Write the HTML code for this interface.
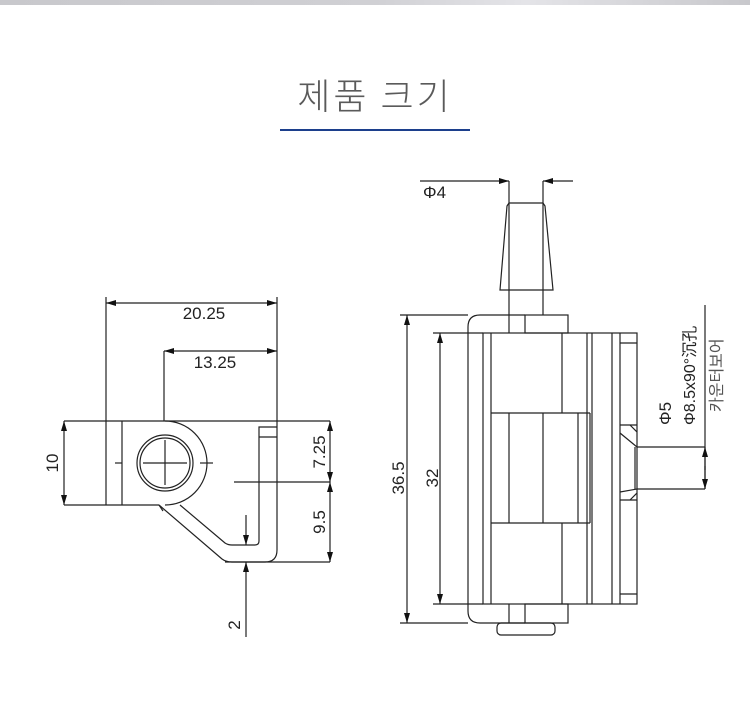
<!DOCTYPE html>
<html><head><meta charset="utf-8"><style>
body{margin:0;background:#fff;}
.wrap{position:relative;width:750px;height:709px;overflow:hidden;background:#fff;}
.bar{position:absolute;left:0;top:0;width:750px;height:5px;background:linear-gradient(90deg,#c8c8cc,#d0d0d4 50%,#e4e4e8 70%,#c8c8cc);}
.title{position:absolute;left:0;width:750px;top:68px;text-align:center;font:300 36px "Noto Sans CJK KR","NanumGothic",sans-serif;color:#5a5a5a;letter-spacing:3px;}
.line{position:absolute;left:280px;top:129px;width:190px;height:2px;background:#1c3f8c;}
svg{position:absolute;left:0;top:0;}
text{font-family:"Liberation Sans","Noto Sans CJK KR",sans-serif;fill:#222;}
</style></head><body><div class="wrap">
<div class="bar"></div>
<div class="title">제품 크기</div>
<div class="line"></div>
<svg width="750" height="709" viewBox="0 0 750 709">
<defs>
<marker id="a" viewBox="0 0 10 6" refX="10" refY="3" markerWidth="10" markerHeight="6" orient="auto-start-reverse" markerUnits="userSpaceOnUse"><path d="M0,0L10,3L0,6z" fill="#111"/></marker>
</defs>
<g stroke="#222" stroke-width="1.2" fill="none">
<line x1="106" y1="303" x2="277" y2="303" marker-start="url(#a)" marker-end="url(#a)"/>
<line x1="164" y1="351" x2="277" y2="351" marker-start="url(#a)" marker-end="url(#a)"/>
<line x1="106" y1="297" x2="106" y2="505"/>
<line x1="277" y1="297" x2="277" y2="550"/>
<line x1="164" y1="351" x2="164" y2="421"/>
<line x1="64" y1="421" x2="330" y2="421"/>
<line x1="64" y1="505" x2="159" y2="505"/>
<line x1="122" y1="421" x2="122" y2="505"/>
<path d="M165,421 A42,42 0 0 1 165,505"/>
<circle cx="165" cy="463" r="28"/>
<circle cx="165" cy="463" r="25"/>
<line x1="115" y1="463" x2="122" y2="463"/>
<line x1="143" y1="463" x2="187" y2="463"/>
<line x1="200" y1="463" x2="213" y2="463"/>
<line x1="165" y1="440" x2="165" y2="485"/>
<path d="M159,505 L222,559 Q226,562 232,562 L265,562 Q277,562 277,550"/>
<path d="M180,505 L225,543 Q228,545 232,545 L255,545 Q259,545 259,541 L259,427 L277,427"/>
<line x1="259" y1="437" x2="277" y2="437"/>
<line x1="163" y1="511" x2="159" y2="505"/>
<line x1="234" y1="482" x2="330" y2="482"/>
<line x1="225" y1="562" x2="330" y2="562"/>
<line x1="64" y1="421" x2="64" y2="505" marker-start="url(#a)" marker-end="url(#a)"/>
<line x1="330" y1="421" x2="330" y2="482" marker-start="url(#a)" marker-end="url(#a)"/>
<line x1="330" y1="482" x2="330" y2="562" marker-start="url(#a)" marker-end="url(#a)"/>
<line x1="246" y1="515" x2="246" y2="545" marker-end="url(#a)"/>
<line x1="246" y1="637" x2="246" y2="562" marker-end="url(#a)"/>
<line x1="420" y1="181" x2="509" y2="181" marker-end="url(#a)"/>
<line x1="573" y1="181" x2="543" y2="181" marker-end="url(#a)"/>
<line x1="509" y1="181" x2="509" y2="315"/>
<line x1="543" y1="181" x2="543" y2="315"/>
<path d="M509,203 L543,203 L545,206 L553,290 L500,290 L507,206 Z"/>
<path d="M525,315 L480,315 Q468,315 468,327 L468,611 Q468,623 480,623 L525,623"/>
<rect x="525" y="315" width="43" height="18"/>
<rect x="525" y="604" width="43" height="19"/>
<line x1="509" y1="315" x2="509" y2="333"/><line x1="509" y1="604" x2="509" y2="623"/>
<rect x="497" y="623" width="58" height="12" rx="4"/>
<rect x="483" y="333" width="154" height="271"/>
<line x1="491" y1="333" x2="491" y2="604"/>
<line x1="587" y1="333" x2="587" y2="604"/>
<line x1="592" y1="333" x2="592" y2="604"/>
<line x1="612" y1="333" x2="612" y2="604"/>
<line x1="620" y1="333" x2="620" y2="604"/>
<line x1="620" y1="343" x2="637" y2="343"/>
<line x1="620" y1="594" x2="637" y2="594"/>
<line x1="491" y1="413" x2="590" y2="413"/>
<line x1="491" y1="523" x2="590" y2="523"/>
<line x1="562" y1="333" x2="562" y2="413"/>
<line x1="562" y1="523" x2="562" y2="604"/>
<line x1="590" y1="413" x2="590" y2="523"/>
<line x1="509" y1="413" x2="509" y2="523"/>
<line x1="543" y1="413" x2="543" y2="523"/>
<line x1="578" y1="413" x2="578" y2="523"/>
<line x1="620" y1="425" x2="637" y2="425"/>
<line x1="620" y1="500" x2="637" y2="500"/>
<path d="M620,433 L637,447 M620,492 L637,489 M630,425 L637,432 M630,500 L637,493"/>
<line x1="635" y1="447" x2="635" y2="489"/>
<path d="M637,447 L705,447 M637,489 L705,489"/>
<line x1="705" y1="305" x2="705" y2="489"/>
<line x1="705" y1="470" x2="705" y2="447" marker-end="url(#a)"/>
<line x1="705" y1="466" x2="705" y2="489" marker-end="url(#a)"/>
<line x1="400" y1="315" x2="468" y2="315"/>
<line x1="400" y1="623" x2="468" y2="623"/>
<line x1="433" y1="333" x2="483" y2="333"/>
<line x1="433" y1="604" x2="483" y2="604"/>
<line x1="407" y1="315" x2="407" y2="623" marker-start="url(#a)" marker-end="url(#a)"/>
<line x1="440" y1="333" x2="440" y2="604" marker-start="url(#a)" marker-end="url(#a)"/>
</g>
<g font-size="17">
<text x="204" y="319" text-anchor="middle">20.25</text>
<text x="215" y="368" text-anchor="middle">13.25</text>
<text transform="translate(58,463) rotate(-90)" text-anchor="middle">10</text>
<text transform="translate(325,452) rotate(-90)" text-anchor="middle">7.25</text>
<text transform="translate(325,522) rotate(-90)" text-anchor="middle">9.5</text>
<text transform="translate(240,625) rotate(-90)" text-anchor="middle">2</text>
<text x="423" y="198">Φ4</text>
<text transform="translate(404,478) rotate(-90)" text-anchor="middle">36.5</text>
<text transform="translate(438,478) rotate(-90)" text-anchor="middle">32</text>
<text transform="translate(671,425) rotate(-90)">Φ5</text>
<text transform="translate(695,425) rotate(-90)" font-size="16">Φ8.5x90°沉孔</text>
<text transform="translate(722,412) rotate(-90)" style="fill:#555" font-size="16">카운터보어</text>
</g>
</svg>
</div></body></html>
